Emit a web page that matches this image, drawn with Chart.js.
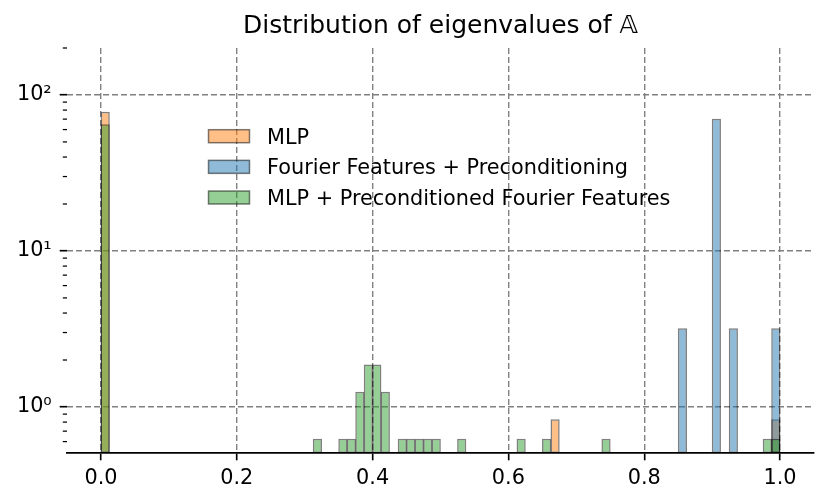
<!DOCTYPE html>
<html>
<head>
<meta charset="utf-8">
<script src="https://cdn.jsdelivr.net/npm/chart.js@4.4.0/dist/chart.umd.min.js"></script>
<style>
  html, body { margin: 0; padding: 0; background: #fff; }
  canvas { display: block; }
</style>
</head>
<body>
<canvas id="eigChart" width="829" height="504"></canvas>
<script>
// histogram bins (left edges) and densities
const binWidth = 0.0125;
const mlpBins = [0.0, 0.6625, 0.9875];
const mlpDensity = [78.1, 0.833, 0.833];
const fourierBins = [0.85, 0.9, 0.925, 0.9875];
const fourierDensity = [3.2, 70.4, 3.2, 3.2];
const mlpPffBins = [0.0, 0.3125, 0.35, 0.3625, 0.375, 0.3875, 0.4, 0.4125,
  0.4375, 0.45, 0.4625, 0.475, 0.4875, 0.525, 0.6125, 0.65, 0.7375, 0.975, 0.9875];
const mlpPffDensity = [65, 0.625, 0.625, 0.625, 1.25, 1.875, 1.875, 1.25,
  0.625, 0.625, 0.625, 0.625, 0.625, 0.625, 0.625, 0.625, 0.625, 0.625, 0.625];

const seriesNames = ['MLP', 'Fourier Features + Preconditioning', 'MLP + Preconditioned Fourier Features'];
const chartTitle = 'Distribution of eigenvalues of \u{1D538}';
const xTicks = [0, 0.2, 0.4, 0.6, 0.8, 1.0];
const yTicks = [1, 10, 100];
const yMinorTicks = [0.6, 0.7, 0.8, 0.9, 2, 3, 4, 5, 6, 7, 8, 9, 20, 30, 40, 50, 60, 70, 80, 90, 200];
const supDigits = ['\u2070', '\u00b9', '\u00b2', '\u00b3'];

function toPoints(bins, values) {
  return bins.map((b, i) => ({ x: b + binWidth / 2, y: values[i] }));
}

const fontSize = 20.8;
Chart.defaults.font.family = '"DejaVu Sans", sans-serif';
Chart.defaults.font.size = fontSize;
Chart.defaults.color = '#000';

const edge = 'rgba(0,0,0,0.5)';

// title centred over the plot area (matplotlib style), plus minor log ticks
const axesDecor = {
  id: 'axesDecor',
  afterDraw(chart) {
    const { ctx, chartArea, scales } = chart;
    ctx.save();
    ctx.font = '25px "DejaVu Sans"';
    ctx.fillStyle = '#000';
    ctx.textAlign = 'center';
    ctx.textBaseline = 'alphabetic';
    ctx.fillText(chartTitle, (chartArea.left + chartArea.right) / 2, 33);

    const y = scales.y;
    ctx.strokeStyle = '#000';
    ctx.lineWidth = 1.25;
    yMinorTicks.forEach(v => {
      const py = y.getPixelForValue(v);
      if (py < chartArea.top - 0.5 || py > chartArea.bottom) return;
      ctx.beginPath();
      ctx.moveTo(chartArea.left - 4.2, py);
      ctx.lineTo(chartArea.left, py);
      ctx.stroke();
    });
    ctx.restore();
  }
};

// legend drawn inside the plot area
const insideLegend = {
  id: 'insideLegend',
  afterDraw(chart) {
    const ctx = chart.ctx;
    ctx.save();
    ctx.font = fontSize + 'px "DejaVu Sans"';
    chart.data.datasets.forEach((ds, i) => {
      const cy = 136.2 + i * 30.65;
      ctx.fillStyle = ds.backgroundColor;
      ctx.fillRect(208.5, cy - 6.5, 41, 13);
      ctx.strokeStyle = ds.borderColor;
      ctx.lineWidth = 1.5;
      ctx.strokeRect(208.5, cy - 6.5, 41, 13);
      ctx.fillStyle = '#000';
      ctx.textBaseline = 'alphabetic';
      ctx.fillText(ds.label, 267, cy + 7.4);
    });
    ctx.restore();
  }
};

const ctx = document.getElementById('eigChart').getContext('2d');
const eigChart = new Chart(ctx, {
  type: 'bar',
  data: {
    datasets: [
      {
        label: seriesNames[0],
        data: toPoints(mlpBins, mlpDensity),
        backgroundColor: 'rgba(255,127,14,0.5)',
        borderColor: edge,
        order: 3
      },
      {
        label: seriesNames[1],
        data: toPoints(fourierBins, fourierDensity),
        backgroundColor: 'rgba(31,119,180,0.5)',
        borderColor: edge,
        order: 2
      },
      {
        label: seriesNames[2],
        data: toPoints(mlpPffBins, mlpPffDensity),
        backgroundColor: 'rgba(44,160,44,0.5)',
        borderColor: edge,
        order: 1
      }
    ]
  },
  options: {
    responsive: false,
    animation: false,
    layout: { padding: { left: 0, right: 15, top: 48, bottom: 0 } },
    datasets: {
      bar: {
        grouped: false,
        barPercentage: 1.08,
        categoryPercentage: 1,
        borderWidth: 1.5,
        borderSkipped: false
      }
    },
    plugins: {
      legend: { display: false },
      tooltip: { enabled: false },
      title: { display: false }
    },
    scales: {
      x: {
        type: 'linear',
        min: -0.05,
        max: 1.05,
        offset: false,
        z: 1,
        afterBuildTicks: s => { s.ticks = xTicks.map(v => ({ value: v })); },
        afterFit: s => { s.height = 51; },
        ticks: {
          padding: 6,
          maxRotation: 0,
          callback: v => v.toFixed(1)
        },
        grid: {
          offset: false,
          color: '#808080',
          lineWidth: 1.4,
          tickColor: '#000',
          tickWidth: 1.65,
          tickLength: 7.3
        },
        border: { display: true, color: '#000', width: 1.65, dash: [6, 3] }
      },
      y: {
        type: 'logarithmic',
        min: 0.507,
        max: 200,
        z: 1,
        afterBuildTicks: s => { s.ticks = yTicks.map(v => ({ value: v })); },
        afterFit: s => { s.width = 67; },
        ticks: {
          padding: 8,
          callback: v => '10' + supDigits[Math.round(Math.log10(v))]
        },
        grid: {
          color: '#808080',
          lineWidth: 1.4,
          tickColor: '#000',
          tickWidth: 1.65,
          tickLength: 7.3
        },
        border: { display: false, dash: [6, 3] }
      }
    }
  },
  plugins: [axesDecor, insideLegend]
});
</script>
</body>
</html>
